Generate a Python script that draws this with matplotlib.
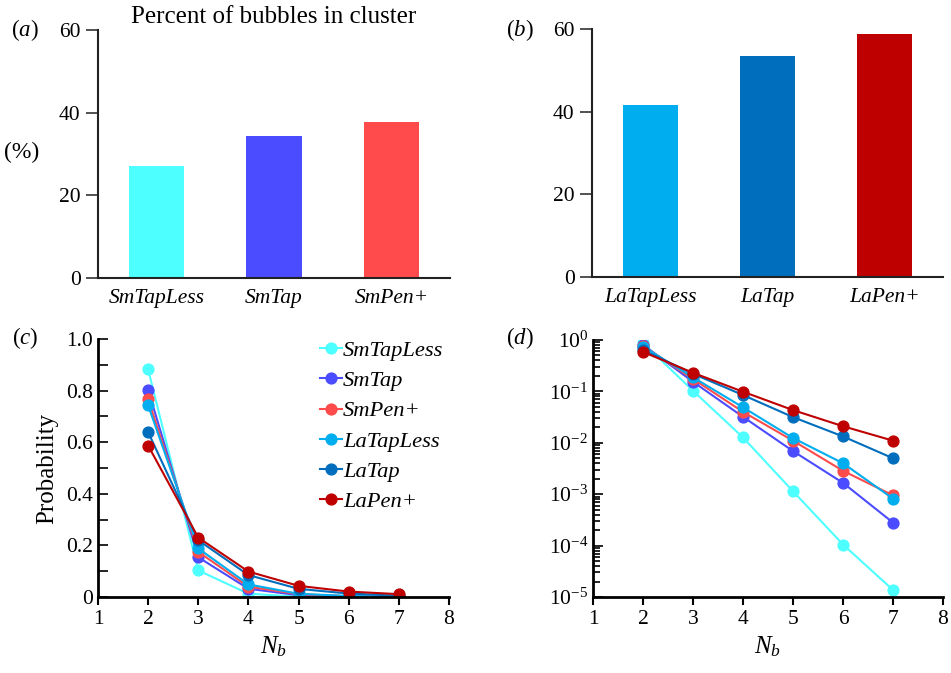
import matplotlib
matplotlib.use("Agg")
import matplotlib.pyplot as plt
from matplotlib.ticker import MultipleLocator, LogLocator, LogFormatterMathtext, NullFormatter
import numpy as np

plt.rcParams['font.family'] = ['Liberation Serif', 'DejaVu Serif']
plt.rcParams['mathtext.fontset'] = 'custom'
plt.rcParams['mathtext.rm'] = 'Liberation Serif'
plt.rcParams['mathtext.it'] = 'Liberation Serif:italic'
plt.rcParams['font.size'] = 15.5

# bar data (percent of bubbles in cluster)
small_names = ['SmTapLess', 'SmTap', 'SmPen+']
small_pct = [27.1, 34.4, 37.7]
large_names = ['LaTapLess', 'LaTap', 'LaPen+']
large_pct = [41.6, 53.5, 58.8]

# probability vs cluster size
nb = [2, 3, 4, 5, 6, 7]
series_names = ['SmTapLess', 'SmTap', 'SmPen+', 'LaTapLess', 'LaTap', 'LaPen+']
p_smtapless = [0.882, 0.103, 0.0127, 0.00114, 0.000105, 0.0000137]
p_smtap = [0.803, 0.154, 0.032, 0.0069, 0.00166, 0.00028]
p_smpen = [0.766, 0.175, 0.040, 0.011, 0.00285, 0.00095]
p_latapless = [0.743, 0.188, 0.049, 0.0124, 0.0040, 0.00082]
p_latap = [0.639, 0.220, 0.085, 0.0316, 0.0133, 0.0050]
p_lapen = [0.587, 0.230, 0.0986, 0.0433, 0.021, 0.011]
probs = [p_smtapless, p_smtap, p_smpen, p_latapless, p_latap, p_lapen]

colors = ['#4dffff', '#4b4bff', '#ff4b4b', '#00aeef', '#006ebd', '#be0000']

W, H = 951, 673
fig = plt.figure(figsize=(W / 100, H / 100), dpi=100)

def box(l, r, t, b):
    return [l / W, 1 - b / H, (r - l) / W, (b - t) / H]

ax_a = fig.add_axes(box(98, 450, 30, 278))
ax_b = fig.add_axes(box(592, 943, 29, 277))
ax_c = fig.add_axes(box(98, 449, 339, 597))
ax_d = fig.add_axes(box(593, 943, 340, 597))

# bar panels
for ax, names, vals, cols in [(ax_a, small_names, small_pct, colors[:3]),
                              (ax_b, large_names, large_pct, colors[3:])]:
    x = np.arange(len(names))
    ax.bar(x, vals, width=0.47, color=cols)
    ax.set_xlim(-0.5, 2.5)
    ax.set_ylim(0, 60)
    ax.set_yticks([0, 20, 40, 60])
    ax.set_xticks(x)
    ax.set_xticklabels(names, style='italic')
    ax.tick_params(axis='x', length=0, pad=8)
    ax.tick_params(axis='y', direction='out', length=9, width=1.2, color='#333333')
    for s in ['top', 'right']:
        ax.spines[s].set_visible(False)
    for s in ['left', 'bottom']:
        ax.spines[s].set_linewidth(1.5)
        ax.spines[s].set_color('#222222')

ax_a.set_title('Percent of bubbles in cluster', fontsize=18, pad=5)
fig.text(22 / W, 1 - 152 / H, '(%)', fontsize=17, ha='center', va='center')
fig.text(25 / W, 1 - 30 / H, r'($a$)', fontsize=16.5, ha='center', va='center')
fig.text(520 / W, 1 - 30 / H, r'($b$)', fontsize=16.5, ha='center', va='center')
fig.text(25 / W, 1 - 338 / H, r'($c$)', fontsize=16.5, ha='center', va='center')
fig.text(520 / W, 1 - 338 / H, r'($d$)', fontsize=16.5, ha='center', va='center')

# probability panels
for ax in [ax_c, ax_d]:
    for name, p, c in zip(series_names, probs, colors):
        ax.plot(nb, p, '-o', color=c, lw=1.5, ms=7.8, label=name)
    ax.set_xlim(1, 8)
    ax.set_xticks(range(1, 9))
    ax.set_xlabel(r'$N_b$', fontsize=18, labelpad=4)
    ax.tick_params(axis='x', direction='out', length=6, width=1.5)
    ax.tick_params(axis='y', which='both', direction='in', length=7, width=1.2)
    for s in ['top', 'right']:
        ax.spines[s].set_visible(False)
    for s in ['left', 'bottom']:
        ax.spines[s].set_linewidth(2)

ax_c.set_ylim(0, 1.0)
ax_c.set_yticks([0, 0.2, 0.4, 0.6, 0.8, 1.0], ['0', '0.2', '0.4', '0.6', '0.8', '1.0'])
ax_c.yaxis.set_minor_locator(MultipleLocator(0.1))
ax_c.set_ylabel('Probability', fontsize=18, labelpad=6)
leg = ax_c.legend(loc='upper right', frameon=False, prop={'style': 'italic', 'size': 16.2},
                  handlelength=1.0, handletextpad=0.05, labelspacing=0.42,
                  borderaxespad=0, bbox_to_anchor=(1.01, 1.03))

ax_d.set_yscale('log')
ax_d.set_ylim(1e-5, 1)
ax_d.yaxis.set_major_locator(LogLocator(base=10, numticks=10))
ax_d.yaxis.set_major_formatter(LogFormatterMathtext())
ax_d.yaxis.set_minor_locator(LogLocator(base=10, subs=np.arange(2, 10), numticks=10))
ax_d.yaxis.set_minor_formatter(NullFormatter())
ax_d.tick_params(axis='y', which='minor', length=5)

fig.savefig('out.png', dpi=100)
